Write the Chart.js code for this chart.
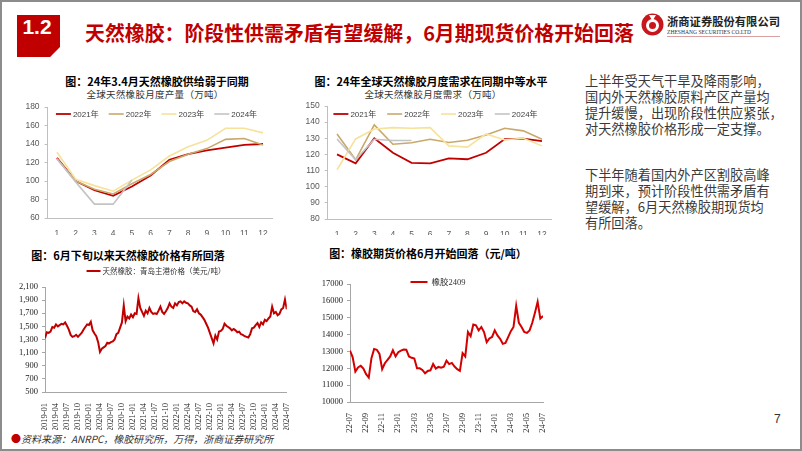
<!DOCTYPE html>
<html>
<head>
<meta charset="utf-8">
<script src="https://cdn.jsdelivr.net/npm/chart.js@4.4.1/dist/chart.umd.min.js"></script>
<style>
html,body{margin:0;padding:0;background:#fff;}
#slide{position:relative;width:802px;height:451px;overflow:hidden;background:#fff;font-family:"Noto Sans CJK SC","Noto Sans",sans-serif;}
#frame{position:absolute;left:0;top:0;width:802px;height:451px;box-sizing:border-box;border:2px solid #8c8c8c;pointer-events:none;}
canvas{position:absolute;}
.ct{position:absolute;white-space:nowrap;transform:translate(-50%,-50%);line-height:1;}
.title{font-weight:bold;font-size:11px;color:#000;}
.sub{font-size:9.5px;color:#333;letter-spacing:0.3px;}
#badge{position:absolute;left:17px;top:15px;width:43px;height:42px;background:#C00000;clip-path:polygon(0 0,100% 0,100% 76%,77% 100%,0 100%);}
#badge span{position:absolute;left:0;top:0;width:40px;height:38px;line-height:38px;text-align:center;color:#fff;font:bold 21px "Liberation Sans",Arial,sans-serif;}
#head{position:absolute;left:85px;top:21px;font-size:19.9px;font-weight:bold;color:#C00000;line-height:24px;white-space:nowrap;}
#logoT{position:absolute;left:667px;top:14px;font-size:11.3px;color:#222;line-height:14px;white-space:nowrap;font-weight:bold;}
#logoE{position:absolute;left:667px;top:29px;font-size:6px;color:#333;line-height:7px;white-space:nowrap;font-family:"Liberation Serif",serif;transform-origin:0 0;transform:scaleX(0.93);}
#logoL{position:absolute;left:667px;top:36px;width:113px;height:1px;background:#d8a0a0;}
.para{position:absolute;left:585px;font-size:13.2px;line-height:16px;color:#3a3a3a;white-space:nowrap;}
#src{position:absolute;left:11px;top:432px;font-size:10px;line-height:14px;color:#333;font-style:italic;white-space:nowrap;}
#src b{color:#C00000;font-style:normal;font-weight:normal;}
#pg{position:absolute;left:774px;top:412px;font:12px "Liberation Sans",Arial,sans-serif;color:#333;}
</style>
</head>
<body>
<div id="slide">
  <div id="badge"><span>1.2</span></div>
  <div id="head">天然橡胶：阶段性供需矛盾有望缓解，6月期现货价格开始回落</div>
  <svg style="position:absolute;left:641px;top:13px" width="23" height="23" viewBox="0 0 23 23">
    <circle cx="11.5" cy="11.5" r="11" fill="#C8161D"/>
    <circle cx="11.5" cy="12.5" r="6.5" fill="#fff"/>
    <circle cx="11.5" cy="12.5" r="3.5" fill="#C8161D"/>
    <path d="M8 2 L11.5 8 L15 2 Z" fill="#fff"/>
  </svg>
  <div id="logoT">浙商证券股份有限公司</div>
  <div id="logoE">ZHESHANG SECURITIES CO.LTD</div>
  <div id="logoL"></div>

  <div class="ct title" style="left:157px;top:81px">图：24年3.4月天然橡胶供给弱于同期</div>
  <div class="ct sub" style="left:155px;top:95px">全球天然橡胶月度产量（万吨）</div>
  <div class="ct title" style="left:431px;top:81px">图：24年全球天然橡胶月度需求在同期中等水平</div>
  <div class="ct sub" style="left:433px;top:95px">全球天然橡胶月度需求（万吨）</div>
  <div class="ct title" style="left:128px;top:255px">图：6月下旬以来天然橡胶价格有所回落</div>
  <div class="ct title" style="left:428px;top:253px">图：橡胶期货价格6月开始回落（元/吨）</div>

  <canvas id="c1" width="290" height="140" style="left:0px;top:95px"></canvas>
  <canvas id="c2" width="270" height="140" style="left:290px;top:95px"></canvas>
  <canvas id="c3" width="300" height="170" style="left:0px;top:260px"></canvas>
  <canvas id="c4" width="260" height="165" style="left:300px;top:270px"></canvas>

  <div class="para" style="top:72.7px">上半年受天气干旱及降雨影响，<br>国内外天然橡胶原料产区产量均<br>提升缓慢，出现阶段性供应紧张，<br>对天然橡胶价格形成一定支撑。</div>
  <div class="para" style="top:167px">下半年随着国内外产区割胶高峰<br>期到来，预计阶段性供需矛盾有<br>望缓解，6月天然橡胶期现货均<br>有所回落。</div>

  <div id="src"><b>●</b>资料来源：ANRPC，橡胶研究所，万得，浙商证券研究所</div>
  <div id="pg">7</div>
  <div id="frame"></div>
</div>
<script>
// ---------------- data ----------------
const monthLabels = ['1','2','3','4','5','6','7','8','9','10','11','12'];
const yearNames = ['2021年','2022年','2023年','2024年'];

const supply2021 = [125,100,90,84,94,106,123,129,133,136,139,140];
const supply2022 = [124,100,91,86,97,107,121,129,135,145,146,139];
const supply2023 = [131,102,95,89,101,112,127,137,144,157,157,152];
const supply2024 = [124,99,75,75,101];

const demand2021 = [120,114.5,130,121,114.8,114.5,117.5,117,121,129.5,129.8,128.2];
const demand2022 = [132.7,116.7,138.3,126.3,127.2,129.4,127.4,128.8,132,136.2,134.6,129.4];
const demand2023 = [110.5,129.6,135.8,136.6,136.2,136.6,125.3,124.5,132.7,129,130,125.3];
const demand2024 = [129.6,116.7,129.4,128.6,128.6];

// Qingdao natural rubber price (USD/t), two readings per month, 2019-01 .. 2024-07
const qingdaoPrice = [
 1320,1410, 1400,1420, 1490,1480, 1530,1500, 1520,1540, 1530,1560,
 1510,1450, 1370,1340, 1350,1370, 1340,1370, 1400,1450, 1490,1530,
 1520,1570, 1440,1390, 1350,1260, 1110,1160, 1180,1200, 1250,1240,
 1260,1270, 1300,1380, 1400,1480, 1560,1820, 1580,1650, 1620,1680,
 1640,1700, 1690,1930, 1780,1720, 1660,1740, 1700,1780, 1720,1690,
 1700,1690, 1740,1800, 1720,1690, 1730,1780, 1850,1800, 1780,1850,
 1820,1870, 1880,1850, 1880,1860, 1850,1820, 1800,1730, 1720,1760,
 1700,1680, 1640,1600, 1540,1480, 1400,1320, 1240,1360, 1300,1420,
 1430,1460, 1540,1510, 1490,1470, 1440,1460, 1440,1410, 1420,1380,
 1370,1350, 1340,1330, 1380,1470, 1480,1520, 1550,1490, 1560,1530,
 1600,1580, 1620,1650, 1800,1700, 1720,1670, 1690,1760, 1780,1910,
 1760
];
const qingdaoPerMonth = 2;
const qingdaoTicks = ['2019-01','2019-04','2019-07','2019-10','2020-01','2020-04','2020-07','2020-10',
 '2021-01','2021-04','2021-07','2021-10','2022-01','2022-04','2022-07','2022-10',
 '2023-01','2023-04','2023-07','2023-10','2024-01','2024-04','2024-07'];
const qingdaoTickStep = 3; // months between labels

// RU2409 futures (CNY/t), three readings per month, 2022-07 .. 2024-07
const futures2409 = [
 13050,12650,11800, 12050,12150,11980, 11650,11450,12600, 13150,13100,12850,
 11950,12300,12500, 12700,13070,12700, 12950,13050,13110, 13100,12700,12620,
 12580,12000,12000, 11900,11700,11840, 11880,12250,11980, 12080,12040,12100,
 12450,12250,12320, 12100,11950,11850, 12900,12700,14150, 13900,14600,14550,
 14250,14450,14150, 13550,13770,13860, 14250,13950,13750, 13450,13500,13850,
 14200,14450,15700, 14700,14450,14150, 14100,14250,14700, 15300,15950,14950,
 15100
];
const futuresPerMonth = 3;
const futuresTicks = ['22-07','22-09','22-11','23-01','23-03','23-05','23-07','23-09','23-11','24-01','24-03','24-05','24-07'];
const futuresTickStep = 2;

// ---------------- styles ----------------
const C21 = '#C00000', C22 = '#C8A96A', C23 = '#F7E29A', C24 = '#C3C3C3';
const RED3 = '#C00000', RED4 = '#D40000';
const axisCol = '#BFBFBF';
const sansTick = {family:'"Liberation Sans", Arial, sans-serif', size:8.5};
const serifTick = {family:'"Liberation Serif", "Times New Roman", serif', size:8.5};

Chart.defaults.font.family = '"Noto Sans CJK SC","Noto Sans",sans-serif';
Chart.defaults.animation = false;

// horizontal line-sample legend drawn at a given centre
const lineLegend = {
  id:'lineLegend',
  afterDraw(chart, args, o){
    if(!o || o.y === undefined) return;
    const ctx = chart.ctx;
    ctx.save();
    ctx.font = o.fs + 'px ' + o.family;
    const items = chart.data.datasets.map(ds => ({text:ds.label, color:ds.borderColor, lw:ds.borderWidth}));
    const widths = items.map(it => o.lineW + o.gap + ctx.measureText(it.text).width);
    const total = widths.reduce((a,b)=>a+b,0) + o.spacing*(items.length-1);
    let x = o.x - total/2;
    items.forEach((it,i) => {
      ctx.strokeStyle = it.color; ctx.lineWidth = it.lw;
      ctx.beginPath(); ctx.moveTo(x, o.y); ctx.lineTo(x + o.lineW, o.y); ctx.stroke();
      ctx.fillStyle = o.color; ctx.textBaseline = 'middle'; ctx.textAlign = 'left';
      ctx.fillText(it.text, x + o.lineW + o.gap, o.y + 0.5);
      x += widths[i] + o.spacing;
    });
    ctx.restore();
  }
};
Chart.register(lineLegend);

const fixW = w => s => { s.width = w; };
const fixH = h => s => { s.height = h; };

function seasonal(id, series, yMin, yMax, step, pad, yW, xH, leg){
  const cols = [C21,C22,C23,C24];
  new Chart(document.getElementById(id), {
    type:'line',
    data:{labels:monthLabels, datasets: series.map((d,i)=>({
      label:yearNames[i], data:d, borderColor:cols[i], backgroundColor:cols[i],
      borderWidth: i===0 ? 1.8 : 1.6, pointRadius:0, tension:0, fill:false,
      order: 4-i
    }))},
    options:{
      responsive:false,
      layout:{padding:pad},
      plugins:{
        legend:{display:false},
        lineLegend:{x:leg.x, y:leg.y, fs:8, family:'"Liberation Sans","Noto Sans CJK SC",sans-serif', color:'#404040', lineW:15, gap:2, spacing:leg.sp},
        tooltip:{enabled:false}
      },
      scales:{
        x:{offset:true, grid:{display:false}, border:{color:axisCol}, ticks:{font:sansTick, color:'#595959', padding:3}, afterFit:fixH(xH)},
        y:{min:yMin, max:yMax, ticks:{stepSize:step, autoSkip:false, font:sansTick, color:'#595959', padding:5},
           grid:{drawOnChartArea:false, tickLength:3, color:axisCol}, border:{color:axisCol}, afterFit:fixW(yW)}
      }
    }
  });
}

seasonal('c1', [supply2021,supply2022,supply2023,supply2024], 60, 180, 20,
  {left:9.6, right:17.6, top:12, bottom:0}, 38, 17, {x:156.5, y:19, sp:10});
seasonal('c2', [demand2021,demand2022,demand2023,demand2024], 80, 150, 10,
  {left:5.7, right:8.7, top:11, bottom:0}, 32, 16, {x:145.5, y:19, sp:11});

function series(id, values, perMonth, ticks, tickStep, label, color, yMin, yMax, yStep, yFmt, pad, yW, xH, leg){
  const pts = values.map((v,i)=>({x:i/perMonth, y:v}));
  const xMax = (ticks.length-1)*tickStep;
  new Chart(document.getElementById(id), {
    type:'line',
    data:{datasets:[{label:label, data:pts, borderColor:color, backgroundColor:color, borderWidth:2, pointRadius:0, tension:0, fill:false}]},
    options:{
      responsive:false,
      layout:{padding:pad},
      plugins:{
        legend:{display:false},
        lineLegend:{x:leg.x, y:leg.y, fs:leg.fs, family:leg.family, color:'#333', lineW:leg.w, gap:leg.gap, spacing:0},
        tooltip:{enabled:false}
      },
      scales:{
        x:{type:'linear', min:0, max:xMax,
           afterBuildTicks: s => { s.ticks = ticks.map((t,i)=>({value:i*tickStep})); },
           ticks:{autoSkip:false, minRotation:90, maxRotation:90, font:serifTick, color:'#222', padding:3,
                  callback:(v)=>ticks[Math.round(v/tickStep)]},
           grid:{display:false}, border:{color:'#A6A6A6'}, afterFit:fixH(xH)},
        y:{min:yMin, max:yMax,
           afterBuildTicks: s => { const a=[]; for(let v=yMin; v<=yMax; v+=yStep) a.push({value:v}); s.ticks=a; },
           ticks:{autoSkip:false, font:serifTick, color:'#222', padding:4, callback:yFmt},
           grid:{drawOnChartArea:false, tickLength:3, color:'#A6A6A6'}, border:{color:'#A6A6A6'}, afterFit:fixW(yW)}
      }
    }
  });
}

series('c3', qingdaoPrice, qingdaoPerMonth, qingdaoTicks, qingdaoTickStep,
  '天然橡胶：青岛主港价格（美元/吨）', RED3, 500, 2100, 200,
  v => v.toLocaleString('en-US'),
  {left:5, right:13, top:27, bottom:0}, 40, 38,
  {x:156, y:11, fs:7.5, w:14, gap:2, family:'"Noto Sans CJK SC",sans-serif'});

series('c4', futures2409, futuresPerMonth, futuresTicks, futuresTickStep,
  '橡胶2409', RED4, 10000, 17000, 1000,
  v => String(v),
  {left:8, right:17, top:14, bottom:0}, 42, 33,
  {x:138, y:12, fs:8.5, w:17, gap:4, family:'"Liberation Serif","Noto Sans CJK SC",serif'});
</script>
</body>
</html>
